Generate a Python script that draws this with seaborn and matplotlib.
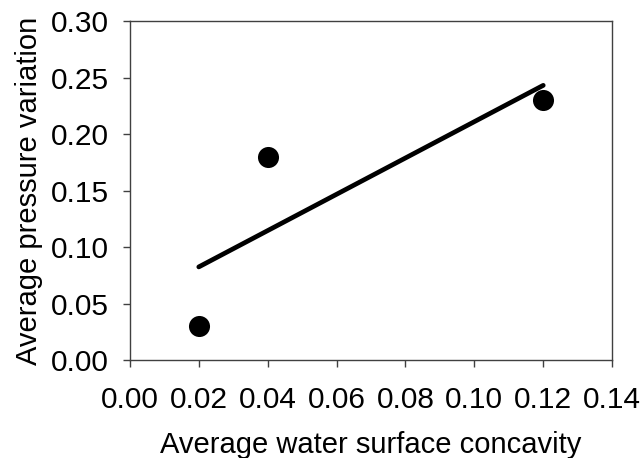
import matplotlib

matplotlib.use("Agg")
import matplotlib.pyplot as plt
import pandas as pd
import seaborn as sns

# values
concavity = [0.02, 0.04, 0.12]
pressure_variation = [0.03, 0.18, 0.23]

x_ticks = [0.00, 0.02, 0.04, 0.06, 0.08, 0.10, 0.12, 0.14]
y_ticks = [0.00, 0.05, 0.10, 0.15, 0.20, 0.25, 0.30]

df = pd.DataFrame({"concavity": concavity, "pressure": pressure_variation})

sns.set_theme(style="ticks", rc={"text.color": "black",
                                 "axes.labelcolor": "black",
                                 "xtick.color": "black",
                                 "ytick.color": "black"})
plt.rcParams["font.family"] = ["Liberation Sans", "DejaVu Sans"]

fig = plt.figure(figsize=(6.43, 4.58), dpi=100)
ax = fig.add_axes([0.202, 0.214, 0.750, 0.740])

# linear trend line over the data range
sns.regplot(
    data=df,
    x="concavity",
    y="pressure",
    ci=None,
    truncate=True,
    scatter=False,
    color="black",
    line_kws={"linewidth": 3.4, "solid_capstyle": "round"},
    ax=ax,
)
sns.scatterplot(
    data=df,
    x="concavity",
    y="pressure",
    color="black",
    s=230,
    edgecolor="black",
    linewidth=0,
    zorder=3,
    ax=ax,
)

ax.set_xlim(0.0, 0.14)
ax.set_ylim(0.0, 0.30)
ax.set_xticks(x_ticks)
ax.set_yticks(y_ticks)
ax.set_xticklabels([f"{v:.2f}" for v in x_ticks])
ax.set_yticklabels([f"{v:.2f}" for v in y_ticks])
ax.tick_params(axis="both", labelsize=21.5, direction="out", length=5, width=1,
               color="#404040", labelcolor="black")
ax.tick_params(axis="y", pad=10)
ax.tick_params(axis="x", pad=14)

for side in ["top", "right", "left", "bottom"]:
    ax.spines[side].set_visible(True)
    ax.spines[side].set_color("#404040")
    ax.spines[side].set_linewidth(1.0)

ax.set_xlabel("Average water surface concavity", fontsize=21, labelpad=12,
              color="black")
ax.set_ylabel("Average pressure variation", fontsize=21, labelpad=6,
              color="black")

fig.savefig("out.png", dpi=100)
plt.close(fig)
